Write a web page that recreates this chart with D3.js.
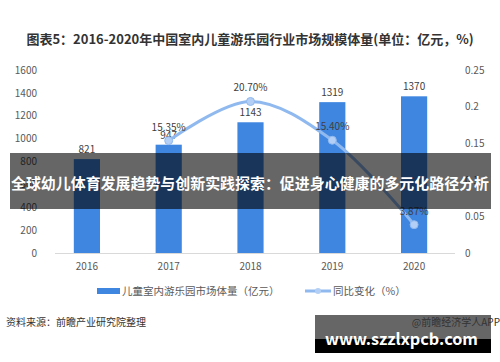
<!DOCTYPE html>
<html>
<head>
<meta charset="utf-8">
<script src="https://cdn.jsdelivr.net/npm/d3@7"></script>
<style>
  body { margin: 0; background: #fff; }
  svg text { font-family: "Noto Sans CJK SC", "Noto Sans", sans-serif; }
</style>
</head>
<body>
<div id="chart"></div>
<script>
const years = ["2016", "2017", "2018", "2019", "2020"];
const marketSize = [821, 947, 1143, 1319, 1370];
const growth = [null, 0.1535, 0.207, 0.154, 0.0387];
const growthLabels = [null, "15.35%", "20.70%", "15.40%", "3.87%"];
const leftTicks = [0, 200, 400, 600, 800, 1000, 1200, 1400, 1600];
const rightTicks = [0, 0.05, 0.1, 0.15, 0.2, 0.25];

const width = 500, height = 362;
const svg = d3.select("#chart").append("svg")
  .attr("width", width).attr("height", height);

// scales
const x = d3.scaleBand().domain(years).range([46, 455]).paddingInner(0.68).paddingOuter(0.34);
const yL = d3.scaleLinear().domain([0, 1600]).range([253, 70]);
const yR = d3.scaleLinear().domain([0, 0.25]).range([253, 70]);

// title
svg.append("text")
  .attr("x", 250).attr("y", 44)
  .attr("text-anchor", "middle")
  .attr("font-size", 13).attr("font-weight", "bold").attr("fill", "#333")
  .text("图表5：2016-2020年中国室内儿童游乐园行业市场规模体量(单位：亿元，%)");

// left axis
const gl = svg.append("g").attr("transform", "translate(37,0)")
  .call(d3.axisLeft(yL).tickValues(leftTicks).tickSize(0).tickPadding(0).tickFormat(d3.format("d")));
gl.select(".domain").remove();
gl.selectAll("text").attr("fill", "#595959").attr("font-size", 10);

// right axis
const gr = svg.append("g").attr("transform", "translate(465,0)")
  .call(d3.axisRight(yR).tickValues(rightTicks).tickSize(0).tickPadding(0).tickFormat(d3.format("")));
gr.select(".domain").remove();
gr.selectAll("text").attr("fill", "#595959").attr("font-size", 10);

// x axis
const gx = svg.append("g").attr("transform", "translate(0,253)")
  .call(d3.axisBottom(x).tickSize(0).tickPadding(10));
gx.select(".domain").attr("stroke", "#d9d9d9").attr("d", "M55,0.5H455");
gx.selectAll("text").attr("fill", "#595959").attr("font-size", 10);

// bars
svg.selectAll(".bar").data(marketSize).enter().append("rect")
  .attr("x", (d, i) => x(years[i]))
  .attr("y", d => yL(d))
  .attr("width", x.bandwidth())
  .attr("height", d => yL(0) - yL(d))
  .attr("fill", "#3f86e0");

svg.selectAll(".barlabel").data(marketSize).enter().append("text")
  .attr("x", (d, i) => x(years[i]) + x.bandwidth() / 2)
  .attr("y", d => yL(d) - 6)
  .attr("text-anchor", "middle")
  .attr("font-size", 10).attr("fill", "#404040")
  .text(d => d);

// growth line
const pts = growth.map((v, i) => ({ year: years[i], v: v, label: growthLabels[i] })).filter(d => d.v !== null);
const line = d3.line()
  .x(d => x(d.year) + x.bandwidth() / 2)
  .y(d => yR(d.v))
  .curve(d3.curveCatmullRom.alpha(0.5));

svg.append("path").datum(pts)
  .attr("d", line)
  .attr("fill", "none")
  .attr("stroke", "#8fb9ef")
  .attr("stroke-width", 3);

svg.selectAll(".pt").data(pts).enter().append("circle")
  .attr("cx", d => x(d.year) + x.bandwidth() / 2)
  .attr("cy", d => yR(d.v))
  .attr("r", 4)
  .attr("fill", "#b3cff5").attr("stroke", "#8fb9ef").attr("stroke-width", 1);

svg.selectAll(".ptlabel").data(pts).enter().append("text")
  .attr("x", d => x(d.year) + x.bandwidth() / 2)
  .attr("y", d => yR(d.v) - 10)
  .attr("text-anchor", "middle")
  .attr("font-size", 10).attr("fill", "#404040")
  .text(d => d.label);

// legend
const lg = svg.append("g").attr("transform", "translate(0,291)");
lg.append("rect").attr("x", 97).attr("y", -3).attr("width", 23).attr("height", 6).attr("fill", "#3f86e0");
lg.append("text").attr("x", 122).attr("y", 4).attr("font-size", 10.5).attr("fill", "#595959")
  .text("儿童室内游乐园市场体量（亿元）");
lg.append("line").attr("x1", 305).attr("x2", 331).attr("y1", 0).attr("y2", 0)
  .attr("stroke", "#8fb9ef").attr("stroke-width", 3);
lg.append("circle").attr("cx", 318).attr("cy", 0).attr("r", 3).attr("fill", "#b3cff5");
lg.append("text").attr("x", 333).attr("y", 4).attr("font-size", 10.5).attr("fill", "#595959")
  .text("同比变化（%）");

// source
svg.append("text").attr("x", 6).attr("y", 326).attr("font-size", 10).attr("fill", "#333")
  .text("资料来源：前瞻产业研究院整理");

// bottom-right stamp
svg.append("rect").attr("x", 315).attr("y", 315).attr("width", 176).attr("height", 24).attr("fill", "#666");
svg.append("rect").attr("x", 315).attr("y", 339).attr("width", 176).attr("height", 14).attr("fill", "#000");
svg.append("text").attr("x", 500).attr("y", 326).attr("text-anchor", "end")
  .attr("font-size", 10).attr("fill", "#333").text("@前瞻经济学人APP");
svg.append("text").attr("x", 325).attr("y", 345)
  .attr("font-size", 16).attr("font-weight", "bold").attr("fill", "#fff")
  .attr("font-family", "'DejaVu Sans', sans-serif")
  .attr("textLength", 153).attr("lengthAdjust", "spacingAndGlyphs")
  .text("www.szzlxpcb.com");

// overlay banner
svg.append("rect").attr("x", 10).attr("y", 153).attr("width", 481).attr("height", 56)
  .attr("fill", "#000").attr("fill-opacity", 0.6);
svg.append("text").attr("x", 11).attr("y", 189)
  .attr("font-size", 15).attr("font-weight", "bold").attr("fill", "#fff")
  .attr("textLength", 478).attr("lengthAdjust", "spacingAndGlyphs")
  .text("全球幼儿体育发展趋势与创新实践探索：促进身心健康的多元化路径分析");
</script>
</body>
</html>
